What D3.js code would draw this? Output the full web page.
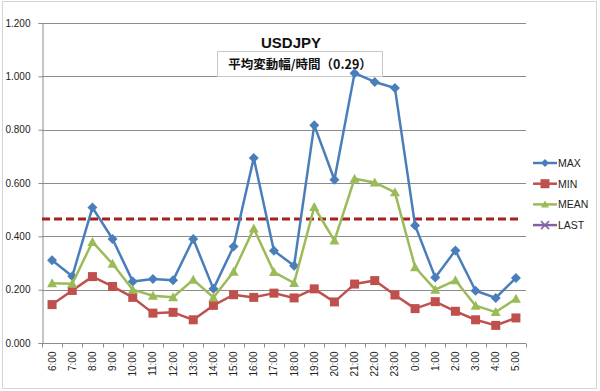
<!DOCTYPE html>
<html>
<head>
<meta charset="utf-8">
<script src="https://cdn.jsdelivr.net/npm/d3@7"></script>
<style>
  body { margin: 0; background: #fff; }
  svg { display: block; font-family: "Liberation Sans", Arial, sans-serif; }
</style>
</head>
<body>
<svg id="chart" width="600" height="391"></svg>
<script>
// chart data
const hours = ["6:00", "7:00", "8:00", "9:00", "10:00", "11:00", "12:00", "13:00", "14:00", "15:00", "16:00", "17:00",
  "18:00", "19:00", "20:00", "21:00", "22:00", "23:00", "0:00", "1:00", "2:00", "3:00", "4:00", "5:00"];
const maxValues = [0.310, 0.250, 0.508, 0.390, 0.231, 0.240, 0.235, 0.390, 0.203, 0.362, 0.694, 0.346,
  0.290, 0.817, 0.612, 1.012, 0.979, 0.956, 0.441, 0.246, 0.347, 0.196, 0.169, 0.244];
const minValues = [0.144, 0.197, 0.249, 0.212, 0.171, 0.112, 0.115, 0.087, 0.141, 0.181, 0.171, 0.187,
  0.169, 0.203, 0.154, 0.221, 0.234, 0.180, 0.129, 0.155, 0.119, 0.087, 0.066, 0.094];
const meanValues = [0.224, 0.222, 0.379, 0.297, 0.200, 0.177, 0.172, 0.237, 0.171, 0.267, 0.429, 0.266,
  0.225, 0.510, 0.384, 0.616, 0.602, 0.565, 0.284, 0.200, 0.235, 0.140, 0.116, 0.166];
const lastValues = []; // no LAST values shown
const avgLine = 0.465;
const yTicks = [0, 0.2, 0.4, 0.6, 0.8, 1.0, 1.2];
const seriesNames = ["MAX", "MIN", "MEAN", "LAST"];
const title = "USDJPY";
const subtitle = "平均変動幅/時間（0.29）";

const colors = { MAX: "#4a7ebb", MIN: "#c0504d", MEAN: "#9bbb59", LAST: "#8064a2" };
const series = [
  { name: "MAX", values: maxValues, marker: "diamond" },
  { name: "MIN", values: minValues, marker: "square" },
  { name: "MEAN", values: meanValues, marker: "triangle" },
  { name: "LAST", values: lastValues, marker: "x" }
];

const svg = d3.select("#chart");
const plot = { left: 42, right: 526, top: 23, bottom: 343 };

// outer frame
svg.append("rect")
  .attr("x", 2.5).attr("y", 1.5)
  .attr("width", 594).attr("height", 387)
  .attr("fill", "none")
  .attr("stroke", "#d4d4d4");

const x = d3.scaleBand()
  .domain(hours)
  .range([plot.left, plot.right]);

const y = d3.scaleLinear()
  .domain([0, 1.2])
  .range([plot.bottom, plot.top]);

// gridlines
svg.append("g")
  .selectAll("line")
  .data(yTicks.slice(1))
  .enter()
  .append("line")
  .attr("x1", plot.left).attr("x2", plot.right)
  .attr("y1", d => Math.round(y(d)) + 0.5).attr("y2", d => Math.round(y(d)) + 0.5)
  .attr("stroke", "#8c8c8c")
  .attr("stroke-width", 1);

// y axis
const yAxis = svg.append("g")
  .attr("transform", "translate(" + (plot.left + 0.5) + ",0)")
  .call(d3.axisLeft(y).tickValues(yTicks).tickFormat(d3.format(".3f")).tickSize(4).tickPadding(8));
yAxis.select(".domain").attr("stroke", "#8c8c8c");
yAxis.selectAll(".tick line").attr("stroke", "#8c8c8c");
yAxis.selectAll("text").attr("font-size", 10).attr("fill", "#222");

// x axis, ticks between categories like Excel
const xAxisG = svg.append("g")
  .attr("transform", "translate(0," + (plot.bottom + 0.5) + ")");
xAxisG.append("line")
  .attr("x1", plot.left).attr("x2", plot.right)
  .attr("stroke", "#8c8c8c");
xAxisG.selectAll(".sep")
  .data(hours.concat(["end"]))
  .enter()
  .append("line")
  .attr("x1", (d, i) => Math.round(plot.left + i * x.step()) + 0.5)
  .attr("x2", (d, i) => Math.round(plot.left + i * x.step()) + 0.5)
  .attr("y1", 0).attr("y2", 4)
  .attr("stroke", "#8c8c8c");
xAxisG.selectAll(".lbl")
  .data(hours)
  .enter()
  .append("text")
  .attr("transform", d => "translate(" + (x(d) + x.bandwidth() / 2 + 3.5) + ",8) rotate(-90)")
  .attr("text-anchor", "end")
  .attr("font-size", 10)
  .attr("fill", "#222")
  .text(d => d);

// title
svg.append("text")
  .attr("x", 291).attr("y", 48)
  .attr("text-anchor", "middle")
  .attr("font-size", 15)
  .attr("font-weight", "bold")
  .attr("fill", "#111")
  .text(title);

// subtitle box (behind the series lines)
svg.append("rect")
  .attr("x", 217.5).attr("y", 51.5)
  .attr("width", 165).attr("height", 25)
  .attr("fill", "#fff")
  .attr("stroke", "#c8c8c8");
svg.append("text")
  .attr("x", 300).attr("y", 69)
  .attr("text-anchor", "middle")
  .attr("font-size", 12.5)
  .attr("font-weight", "bold")
  .attr("font-family", "Noto Sans CJK JP")
  .attr("fill", "#111")
  .text(subtitle);

// dashed average line
svg.append("line")
  .attr("x1", plot.left).attr("x2", 520)
  .attr("y1", y(avgLine)).attr("y2", y(avgLine))
  .attr("stroke", "#a8201e")
  .attr("stroke-width", 3)
  .attr("stroke-dasharray", "8,4");

// markers
function drawMarker(g, type, color, size) {
  const s = size;
  if (type === "diamond") {
    g.append("path").attr("d", `M0,${-s}L${s},0L0,${s}L${-s},0Z`).attr("fill", color);
  } else if (type === "square") {
    g.append("rect").attr("x", -s).attr("y", -s).attr("width", 2 * s).attr("height", 2 * s).attr("fill", color);
  } else if (type === "triangle") {
    g.append("path").attr("d", `M0,${-s}L${s},${s * 0.8}L${-s},${s * 0.8}Z`).attr("fill", color);
  } else {
    g.append("path").attr("d", `M${-s},${-s}L${s},${s}M${-s},${s}L${s},${-s}`).attr("stroke", color).attr("stroke-width", 1.5);
  }
}

const line = d3.line()
  .x((d, i) => x(hours[i]) + x.bandwidth() / 2)
  .y(d => y(d));

series.forEach(s => {
  const c = colors[s.name];
  svg.append("path")
    .datum(s.values)
    .attr("d", line)
    .attr("fill", "none")
    .attr("stroke", c)
    .attr("stroke-width", 2.5)
    .attr("stroke-linejoin", "round");
  s.values.forEach((v, i) => {
    const g = svg.append("g")
      .attr("transform", "translate(" + (x(hours[i]) + x.bandwidth() / 2) + "," + y(v) + ")");
    drawMarker(g, s.marker, c, s.marker === "square" ? 4.5 : 5);
  });
});

// legend
const legend = svg.append("g");
seriesNames.forEach((name, i) => {
  const ly = 163 + i * 20.7;
  const s = series.find(d => d.name === name);
  legend.append("line")
    .attr("x1", 533).attr("x2", 557)
    .attr("y1", ly).attr("y2", ly)
    .attr("stroke", colors[name])
    .attr("stroke-width", 2.5);
  const g = legend.append("g").attr("transform", "translate(545," + ly + ")");
  drawMarker(g, s.marker, colors[name], s.marker === "square" ? 4.5 : 4);
  legend.append("text")
    .attr("x", 558).attr("y", ly + 4)
    .attr("font-size", 10.5)
    .attr("fill", "#222")
    .text(name);
});
</script>
</body>
</html>
